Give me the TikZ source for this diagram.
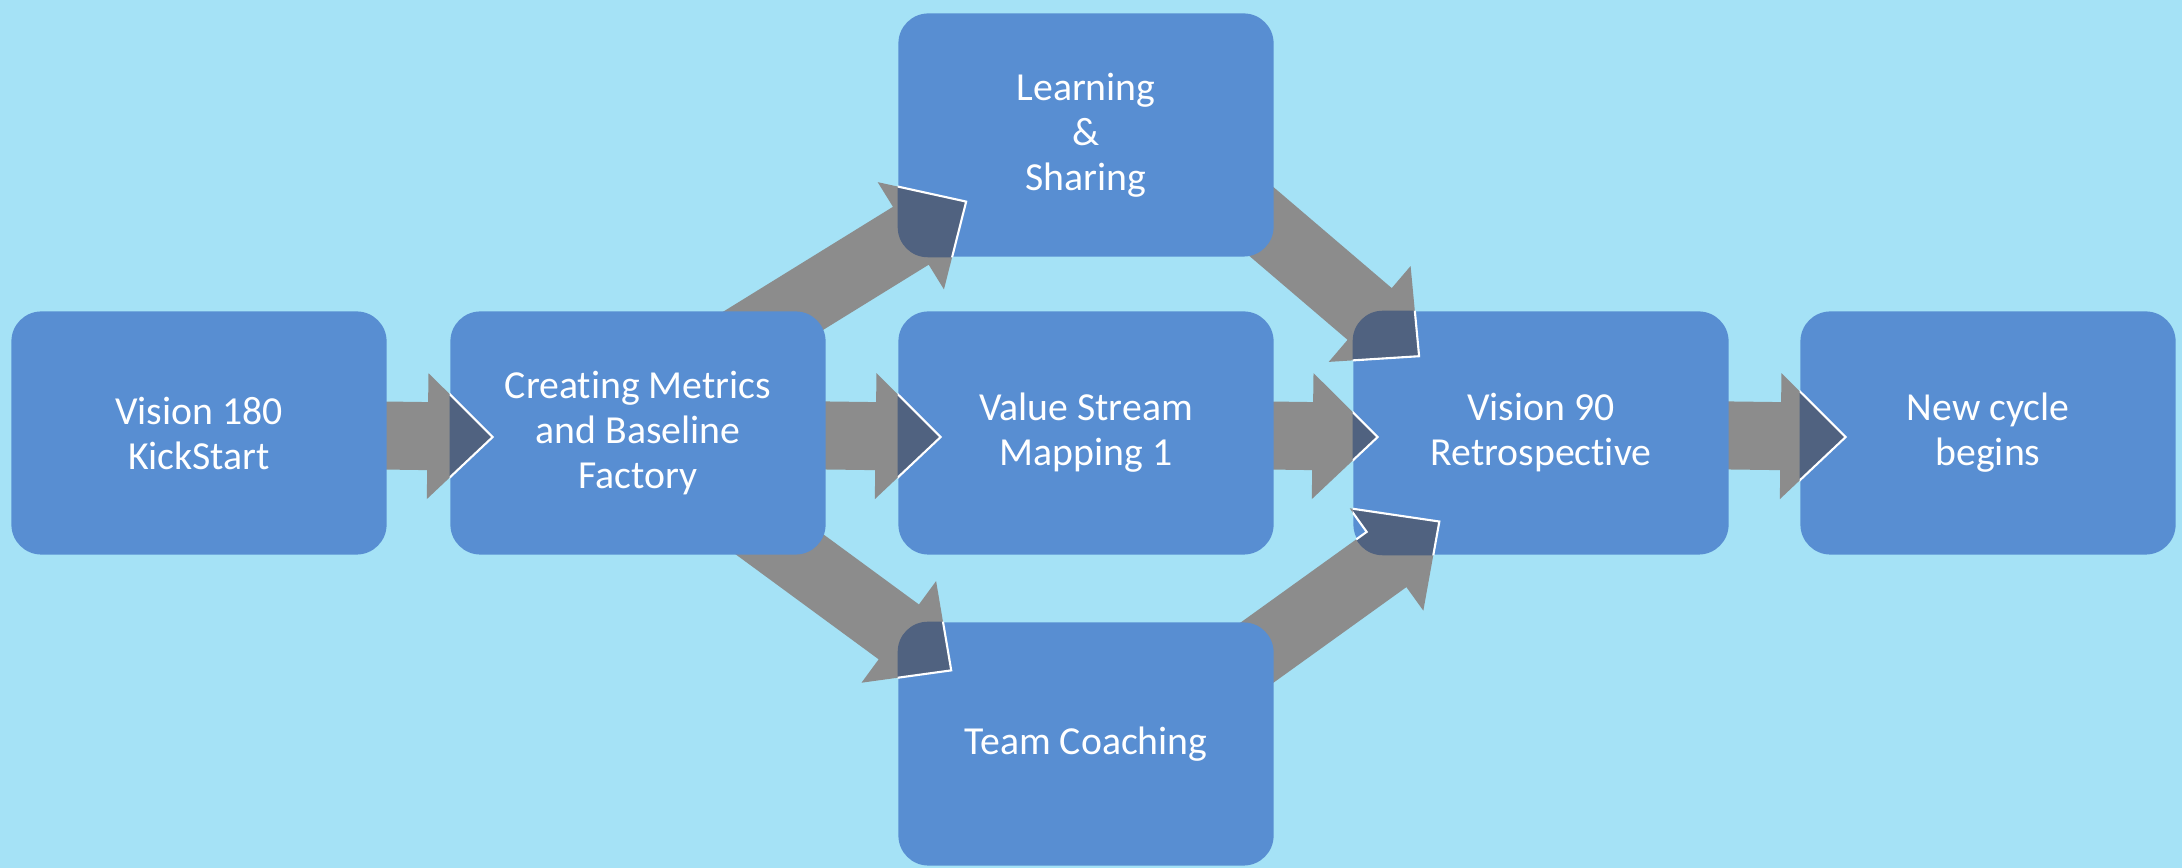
\documentclass[tikz,border=0pt]{standalone}
\usepackage{fontspec}
\setmainfont{Carlito}[Ligatures=NoCommon]
\usetikzlibrary{calc}
\definecolor{skyback}{RGB}{165,226,246}
\definecolor{boxblue}{RGB}{88,142,210}
\definecolor{arrowgray}{RGB}{140,140,140}
\definecolor{headdark}{RGB}{80,98,128}
\pgfdeclarelayer{back}
\pgfsetlayers{back,main}
\tikzset{stage/.style={rectangle, rounded corners=0.3cm, fill=boxblue, text=white,
    align=center, minimum width=3.75cm, minimum height=2.43cm,
    font=\fontsize{11.3}{12.8}\selectfont}}

% fat arrow, drawn after \arrx,\arry,\arrang,\arrlen are known
\newcommand\arrowpoly[1]{%
  \path[#1, shift={(\arrx,\arry)}, rotate=\arrang]
    (0cm,-0.34cm) -- ({\arrlen pt-0.65cm},-0.34cm) -- ({\arrlen pt-0.65cm},-0.63cm)
    -- (\arrlen pt,0cm) -- ({\arrlen pt-0.65cm},0.63cm) -- ({\arrlen pt-0.65cm},0.34cm)
    -- (0cm,0.34cm) -- cycle;}

% #1 start (hidden under source box), #2 tip, #3 target box
\newcommand\blockarrow[3]{%
  \path let \p1=(#1), \p2=(#2) in \pgfextra{%
    \pgfmathsetmacro\tmpang{atan2(\y2-\y1,\x2-\x1)}%
    \pgfmathsetmacro\tmplen{veclen(\x2-\x1,\y2-\y1)}%
    \xdef\arrang{\tmpang}\xdef\arrlen{\tmplen}\xdef\arrx{\x1}\xdef\arry{\y1}};
  \begin{pgfonlayer}{back}
    \arrowpoly{fill=arrowgray}
  \end{pgfonlayer}
  \begin{scope}
    \clip[rounded corners=0.3cm] (#3.north west) rectangle (#3.south east);
    \arrowpoly{fill=headdark, draw=white, line width=0.6pt}
  \end{scope}}

\begin{document}
\begin{tikzpicture}[x=0.01cm, y=-0.01cm]
    \useasboundingbox (0,0) rectangle (2182,868);
    \begin{pgfonlayer}{back}
      \fill[skyback] (0,0) rectangle (2182,868);
    \end{pgfonlayer}

    % the stages
    \node [stage] (kick) at (199,433) {Vision 180\\KickStart};
    \node [stage] (metric) at (638,433) {Creating Metrics\\and Baseline\\Factory};
    \node [stage] (learn) at (1086,135) {Learning\\\&\\Sharing};
    \node [stage] (stream) at (1086,433) {Value Stream\\Mapping 1};
    \node [stage] (coach) at (1086,744) {Team Coaching};
    \node [stage] (retro) at (1541,433) {Vision 90\\Retrospective};
    \node [stage] (cycle) at (1988,433) {New cycle\\begins};

    % straight arrows along the middle row
    \blockarrow{kick.center}{$(metric.west)+(43,4)$}{metric}
    \blockarrow{metric.center}{$(stream.west)+(43,4)$}{stream}
    \blockarrow{stream.center}{$(retro.west)+(25,4)$}{retro}
    \blockarrow{retro.center}{$(cycle.west)+(46,4)$}{cycle}

    % slanted arrows round the middle row
    \blockarrow{$(metric.center)+(62,-67)$}{$(learn.south west)+(69,-56)$}{learn}
    \blockarrow{$(metric.center)+(62,53)$}{$(coach.north west)+(54,49)$}{coach}
    \blockarrow{$(learn.center)+(94,17)$}{$(retro.north west)+(67,46)$}{retro}
    \blockarrow{$(coach.center)+(94,-36)$}{$(retro.south west)+(87,-34)$}{retro}
\end{tikzpicture}
\end{document}
